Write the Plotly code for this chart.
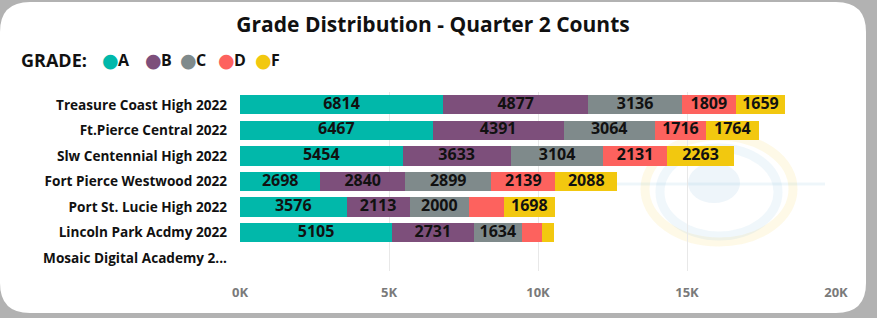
import plotly.graph_objects as go

schools = [
    "Treasure Coast High 2022",
    "Ft.Pierce Central 2022",
    "Slw Centennial High 2022",
    "Fort Pierce Westwood 2022",
    "Port St. Lucie High 2022",
    "Lincoln Park Acdmy 2022",
    "Mosaic Digital Academy 2...",
]
grades = ["A", "B", "C", "D", "F"]
grade_colors = ["#01B8AA", "#7D4F7B", "#7F8A8B", "#FD625E", "#F2C80F"]

counts_A = [6814, 6467, 5454, 2698, 3576, 5105, None]
counts_B = [4877, 4391, 3633, 2840, 2113, 2731, None]
counts_C = [3136, 3064, 3104, 2899, 2000, 1634, None]
counts_D = [1809, 1716, 2131, 2139, 1170, 650, None]
counts_F = [1659, 1764, 2263, 2088, 1698, 410, None]
series = [counts_A, counts_B, counts_C, counts_D, counts_F]

tick_vals = [0, 5000, 10000, 15000, 20000]
tick_text = ["0K", "5K", "10K", "15K", "20K"]

title_text = "Grade Distribution - Quarter 2 Counts"

FONT = "Open Sans, Segoe UI, DejaVu Sans, sans-serif"
MIN_LABEL_VALUE = 1300  # segments narrower than this get no data label

# pixel layout helpers
W, H = 877, 318
L, R, T, B = 240, 41, 92, 47
PW, PH = W - L - R, H - T - B


def px(x):
    return (x - L) / PW


def py(y):
    return (H - B - y) / PH


fig = go.Figure()
for g, col, vals in zip(grades, grade_colors, series):
    fig.add_trace(go.Bar(
        name=g, y=schools, x=vals, orientation="h",
        marker=dict(color=col, line=dict(width=0)),
        textposition="none",
        showlegend=False, hoverinfo="x+y+name",
    ))

# data labels centred in each stacked segment
lab_x, lab_y, lab_t = [], [], []
for i, school in enumerate(schools):
    base = 0
    for vals in series:
        v = vals[i]
        if v is None:
            continue
        if v >= MIN_LABEL_VALUE:
            lab_x.append(base + v / 2)
            lab_y.append(school)
            lab_t.append(str(v))
        base += v
fig.add_trace(go.Scatter(
    x=lab_x, y=lab_y, text=lab_t, mode="text", textposition="middle center",
    textfont=dict(family=FONT, size=16, color="#111111", weight="bold"),
    showlegend=False, hoverinfo="skip", cliponaxis=False,
))

# card shape
cx0, cy0, cx1, cy1, rad = 0, 2, 866, 313, 30
card = (f"M {px(cx0+rad)} {py(cy0)} L {px(cx1-rad)} {py(cy0)} "
        f"Q {px(cx1)} {py(cy0)} {px(cx1)} {py(cy0+rad)} "
        f"L {px(cx1)} {py(cy1-rad)} Q {px(cx1)} {py(cy1)} {px(cx1-rad)} {py(cy1)} "
        f"L {px(cx0+rad)} {py(cy1)} Q {px(cx0)} {py(cy1)} {px(cx0)} {py(cy1-rad)} "
        f"L {px(cx0)} {py(cy0+rad)} Q {px(cx0)} {py(cy0)} {px(cx0+rad)} {py(cy0)} Z")
shapes = [dict(type="path", path=card, xref="paper", yref="paper", layer="below",
               fillcolor="white", line=dict(width=0))]
# faint watermark logo
shapes += [
    dict(type="line", xref="paper", yref="paper", layer="below",
         x0=px(545), x1=px(825), y0=py(184), y1=py(184),
         line=dict(color="rgba(150,200,225,0.16)", width=3)),
    dict(type="circle", xref="paper", yref="paper", layer="below",
         x0=px(645), x1=px(793), y0=py(136), y1=py(242),
         line=dict(color="rgba(242,200,15,0.10)", width=9)),
    dict(type="circle", xref="paper", yref="paper", layer="below",
         x0=px(660), x1=px(778), y0=py(148), y1=py(236),
         line=dict(color="rgba(150,200,230,0.14)", width=9)),
    dict(type="circle", xref="paper", yref="paper", layer="below",
         x0=px(688), x1=px(740), y0=py(163), y1=py(203),
         fillcolor="rgba(150,195,225,0.16)", line=dict(width=0)),
]

# legend built from annotations
legend_dot_x = [110, 153, 188, 226, 263]
annotations = [dict(text="GRADE:", xref="paper", yref="paper",
                    x=px(19), y=py(60), xanchor="left", yanchor="middle",
                    showarrow=False,
                    font=dict(family=FONT, size=18, color="#111111", weight="bold"))]
for g, c, dx in zip(grades, grade_colors, legend_dot_x):
    annotations.append(dict(text="●", xref="paper", yref="paper",
                            x=px(dx), y=py(60), xanchor="center", yanchor="middle",
                            showarrow=False,
                            font=dict(family="DejaVu Sans", size=19, color=c)))
    annotations.append(dict(text=g, xref="paper", yref="paper",
                            x=px(dx + 6), y=py(60), xanchor="left", yanchor="middle",
                            showarrow=False,
                            font=dict(family=FONT, size=16, color="#111111", weight="bold")))

fig.update_layout(
    width=W, height=H,
    margin=dict(l=L, r=R, t=T, b=B, pad=0),
    paper_bgcolor="#B2B2B2",
    plot_bgcolor="rgba(0,0,0,0)",
    barmode="stack",
    bargap=0.25,
    font=dict(family=FONT, color="#111111"),
    title=dict(text=title_text, x=433 / W, xref="container", xanchor="center",
               y=1 - 25 / H, yref="container", yanchor="middle",
               font=dict(family=FONT, size=21, color="#111111", weight="bold")),
    shapes=shapes,
    annotations=annotations,
    xaxis=dict(range=[0, 20000], tickvals=tick_vals, ticktext=tick_text,
               showgrid=True, gridcolor="#E8E8E8", gridwidth=1,
               zeroline=False, showline=False, ticks="",
               ticklabelstandoff=12,
               tickfont=dict(family=FONT, size=13, color="#7A7A7A", weight="bold")),
    yaxis=dict(autorange="reversed", showgrid=False, zeroline=False, showline=False,
               ticks="", ticklabelstandoff=12,
               tickfont=dict(family=FONT, size=13.6, color="#111111", weight="bold")),
)

fig.write_html("out.html", config={"displayModeBar": False},
               post_script="document.body.style.margin='0';")
